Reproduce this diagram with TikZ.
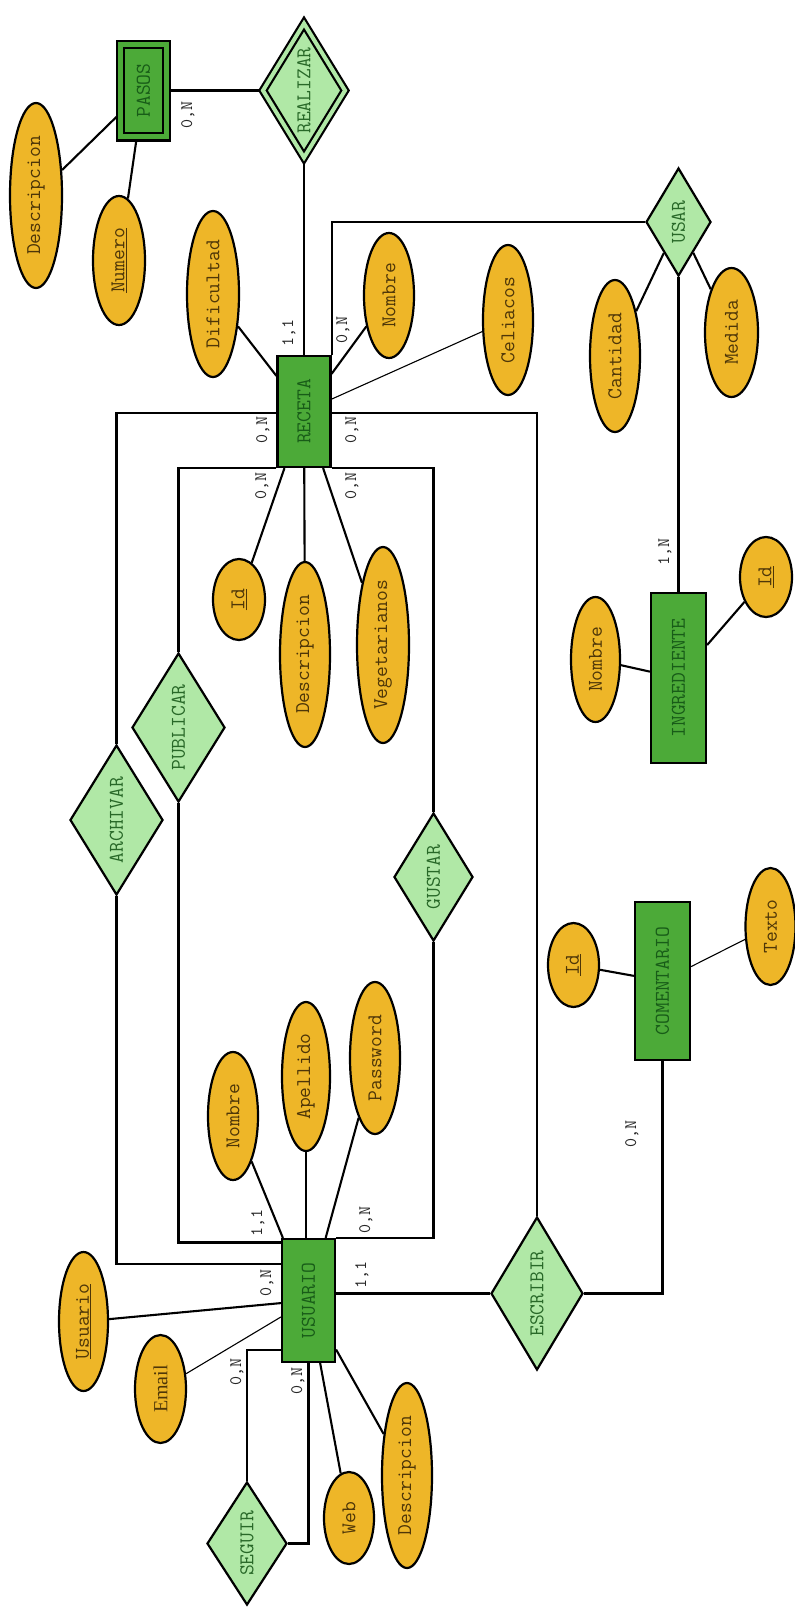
\documentclass[tikz,border=0pt]{standalone}
\usepackage{fontspec}
\usepackage{graphicx}
\newfontfamily\serifemail{Liberation Serif}
\usetikzlibrary{shapes.geometric,backgrounds}

\definecolor{entverde}{RGB}{76,170,56}
\definecolor{relverde}{RGB}{176,232,166}
\definecolor{atrnaranja}{RGB}{238,182,40}
\definecolor{txtent}{RGB}{24,92,24}
\definecolor{txtrel}{RGB}{40,104,40}
\definecolor{txtatr}{RGB}{78,54,8}

\newcommand{\vtxt}[1]{\rotatebox{90}{#1}}

\tikzset{
	tam/.style 2 args={minimum width=#1pt,minimum height=#2pt},
	entidad/.style={rectangle,draw,line width=2.2pt,fill=entverde,text=txtent,inner sep=0pt},
	relacion/.style={diamond,aspect=0.6,draw,line width=2.2pt,fill=relverde,text=txtrel,inner sep=0pt},
	atributo/.style={ellipse,draw,line width=2.2pt,fill=atrnaranja,text=txtatr,inner sep=0pt},
	card/.style={inner sep=0pt,font=\ttfamily\fontsize{17.5}{17.5}\selectfont,text=black!85},
	enlace/.style={line width=2.1pt},
	fino/.style={line width=1.1pt}
}

\begin{document}
\begin{tikzpicture}[x=1pt,y=-1pt,font=\ttfamily\fontsize{21}{22}\selectfont]

		\useasboundingbox (0,0) rectangle (795,1607); %枠

		\node[entidad,tam={45.6}{92.6},double=entverde,double distance=5pt] (pasos) at (143.5,90.5) {\vtxt{PASOS}}; %エンティティ
		\node[entidad,tam={53}{111}] (receta) at (304,411.5) {\vtxt{RECETA}};
		\node[entidad,tam={55}{170}] (ingrediente) at (678.5,678) {\vtxt{INGREDIENTE}};
		\node[entidad,tam={55}{158}] (comentario) at (662.5,981) {\vtxt{COMENTARIO}};
		\node[entidad,tam={53}{123}] (usuario) at (308.5,1300.5) {\vtxt{USUARIO}};

		\node[relacion,tam={83}{135},double=relverde,double distance=4pt] (realizar) at (304,90.5) {\vtxt{REALIZAR}}; %関連
		\node[relacion,tam={65}{108}] (usar) at (678.5,222) {\vtxt{USAR}};
		\node[relacion,tam={93}{149}] (publicar) at (178.5,727.5) {\vtxt{PUBLICAR}};
		\node[relacion,tam={93}{150}] (archivar) at (116.5,820) {\vtxt{ARCHIVAR}};
		\node[relacion,tam={79}{128}] (gustar) at (433.5,877) {\vtxt{GUSTAR}};
		\node[relacion,tam={92}{153}] (escribir) at (537,1293.5) {\vtxt{ESCRIBIR}};
		\node[relacion,tam={80}{123}] (seguir) at (247,1543.5) {\vtxt{SEGUIR}};

		\node[atributo,tam={52}{185}] (pdesc) at (36,195.5) {\vtxt{Descripcion}}; %属性
		\node[atributo,tam={52}{129}] (pnum) at (119,260.5) {\vtxt{\underline{Numero}}};
		\node[atributo,tam={52}{166}] (rdif) at (213,294) {\vtxt{Dificultad}};
		\node[atributo,tam={50}{125}] (rnom) at (389,295.5) {\vtxt{Nombre}};
		\node[atributo,tam={50}{150}] (rcel) at (508,320) {\vtxt{Celiacos}};
		\node[atributo,tam={50}{152}] (ucan) at (615,356) {\vtxt{Cantidad}};
		\node[atributo,tam={53}{129}] (umed) at (731.5,332.5) {\vtxt{Medida}};
		\node[atributo,tam={52}{81}] (rid) at (239,599.5) {\vtxt{\underline{Id}}};
		\node[atributo,tam={50}{185}] (rdesc) at (305,654.5) {\vtxt{Descripcion}};
		\node[atributo,tam={52}{196}] (rveg) at (383,645) {\vtxt{Vegetarianos}};
		\node[atributo,tam={49}{125}] (inom) at (595.5,659.5) {\vtxt{Nombre}};
		\node[atributo,tam={52}{80}] (iid) at (766,577) {\vtxt{\underline{Id}}};
		\node[atributo,tam={51}{84}] (cid) at (573.5,965) {\vtxt{\underline{Id}}};
		\node[atributo,tam={50}{117}] (ctex) at (770.5,926.5) {\vtxt{Texto}};
		\node[atributo,tam={50}{128}] (unom) at (233,1116) {\vtxt{Nombre}};
		\node[atributo,tam={48}{149}] (uape) at (306,1076.5) {\vtxt{Apellido}};
		\node[atributo,tam={50}{152}] (upas) at (375,1058) {\vtxt{Password}};
		\node[atributo,tam={49}{139}] (uusu) at (83.5,1321.5) {\vtxt{\underline{Usuario}}};
		\node[atributo,tam={51}{108},font=\serifemail\fontsize{20}{20}\selectfont] (uema) at (160.5,1389) {\vtxt{Email}};
		\node[atributo,tam={50}{92}] (uweb) at (349,1518) {\vtxt{Web}};
		\node[atributo,tam={50}{185}] (udes) at (407,1475.5) {\vtxt{Descripcion}};

		\begin{scope}[on background layer]
		\draw[enlace] (pasos) -- (realizar); %線
		\draw[enlace] (realizar) -- (receta);
		\draw[enlace] (pdesc) -- (pasos);
		\draw[enlace] (pnum) -- (pasos);
		\draw[enlace] (rdif) -- (receta);
		\draw[enlace] (rnom) -- (receta);
		\draw[fino] (rcel) -- (receta);
		\draw[enlace] (receta.north east) |- (usar.west);
		\draw[enlace] (usar) -- (ucan);
		\draw[enlace] (usar) -- (umed);
		\draw[enlace] (usar) -- (ingrediente);
		\draw[enlace] (inom) -- (ingrediente);
		\draw[enlace] (iid) -- (ingrediente);
		\draw[enlace] (rid) -- (receta);
		\draw[enlace] (rdesc) -- (receta);
		\draw[enlace] (rveg) -- (receta);
		\draw[enlace] ([yshift=-1.5pt]receta.west) -| (archivar.north);
		\draw[enlace] (receta.south west) -| (publicar.north);
		\draw[enlace] (receta.south east) -| (gustar.north);
		\draw[enlace] ([yshift=-1.5pt]receta.east) -| (escribir.north);
		\draw[enlace] (archivar.south) |- ([yshift=36.5pt]usuario.west);
		\draw[enlace] (publicar.south) |- ([yshift=58pt]usuario.west);
		\draw[enlace] (gustar.south) |- (usuario.north east);
		\draw[enlace] (escribir.west) -- (escribir.west -| usuario.east);
		\draw[enlace] (escribir.east) -| (comentario.south);
		\draw[enlace] (cid) -- (comentario);
		\draw[fino] (ctex) -- (comentario);
		\draw[enlace] (unom) -- (usuario);
		\draw[enlace] (uape) -- (uape |- usuario.north);
		\draw[enlace] (upas) -- (usuario);
		\draw[enlace] (uusu) -- (usuario);
		\draw[fino] (uema) -- (usuario);
		\draw[enlace] ([yshift=-49.5pt]usuario.west) -| (seguir.north);
		\draw[enlace] (seguir.east) -| (usuario.south);
		\draw[enlace] (uweb) -- (usuario);
		\draw[enlace] (udes) -- (usuario);
		\end{scope}

		\node[card] (cpasos) at (188,115) {\vtxt{0,N}}; %カーディナリティ
		\node[card] (crealizar) at (289,333) {\vtxt{1,1}};
		\node[card] (cusar) at (343,330) {\vtxt{0,N}};
		\node[card] (carchivar) at (263,430) {\vtxt{0,N}};
		\node[card] (cescribir) at (352,430) {\vtxt{0,N}};
		\node[card] (cpublicar) at (262,486) {\vtxt{0,N}};
		\node[card] (cgustar) at (352,486) {\vtxt{0,N}};
		\node[card] (cingrediente) at (665,552) {\vtxt{1,N}};
		\node[card] (ccomentario) at (632,1134) {\vtxt{0,N}};
		\node[card] (cupublicar) at (258,1223) {\vtxt{1,1}};
		\node[card] (cugustar) at (366,1220) {\vtxt{0,N}};
		\node[card] (cuarchivar) at (267,1283) {\vtxt{0,N}};
		\node[card] (cuescribir) at (362,1275) {\vtxt{1,1}};
		\node[card] (cseguir) at (237,1372) {\vtxt{0,N}};
		\node[card] (cseguido) at (298,1381) {\vtxt{0,N}};
	\end{tikzpicture}
\end{document}
